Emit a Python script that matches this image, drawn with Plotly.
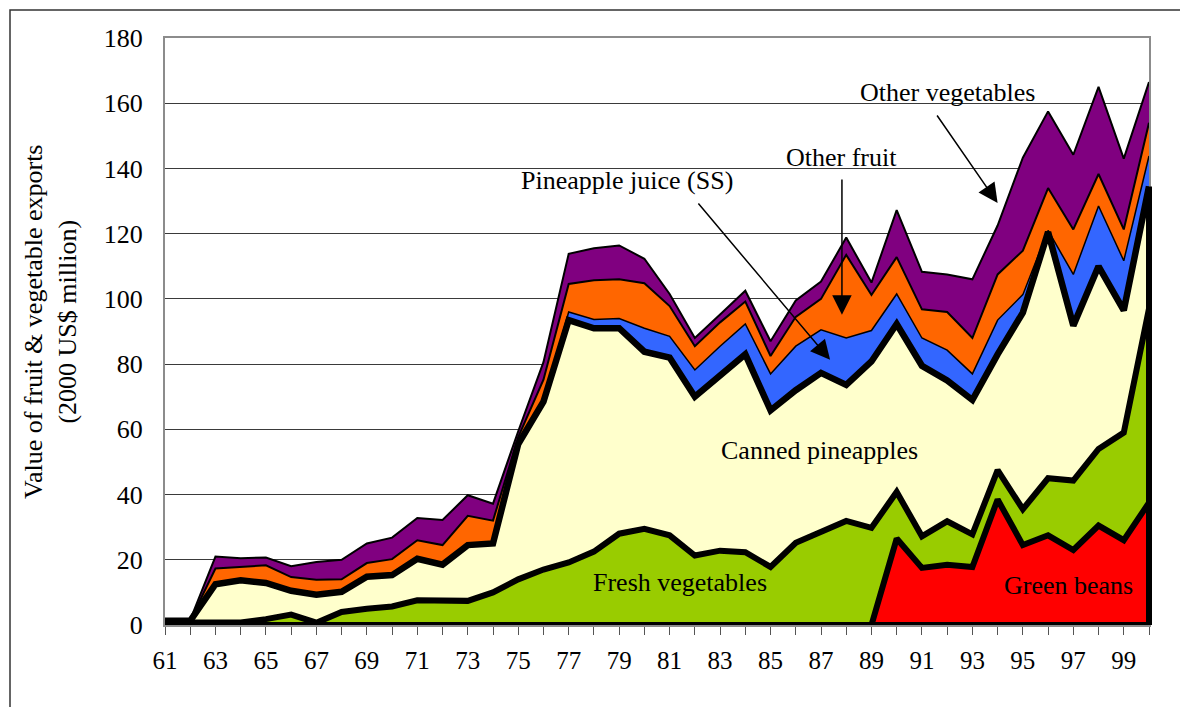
import numpy as np
import plotly.graph_objects as go

# years 1961-2000, labels on odd years
years = list(range(1961, 2001))
tick_years = list(range(1961, 2000, 2))
tick_labels = ["61", "63", "65", "67", "69", "71", "73", "75", "77", "79",
               "81", "83", "85", "87", "89", "91", "93", "95", "97", "99"]

# export values, 2000 US$ million (stacked bottom to top)
green_beans = [0, 0, 0, 0, 0, 0, 0, 0, 0, 0,
               0, 0, 0, 0, 0, 0, 0, 0, 0, 0,
               0, 0, 0, 0, 0, 0, 0, 0, 0, 26.5,
               17.5, 18.5, 17.8, 38.5, 24.5, 27.5, 23.0, 30.5, 26.0, 37.5]
fresh_vegetables = [0.8, 0.8, 0.6, 0.8, 1.8, 3.2, 0.7, 4.0, 5.0, 5.7,
                    7.6, 7.6, 7.4, 10.0, 14.0, 17.0, 19.2, 22.5, 28.0, 29.5,
                    27.5, 21.3, 22.8, 22.3, 17.8, 25.2, 28.5, 31.9, 29.8, 14.3,
                    9.7, 13.3, 10.0, 9.0, 11.0, 17.5, 21.3, 23.5, 33.0, 59.5]
canned_pineapples = [0.5, 0.5, 11.9, 12.9, 11.1, 7.3, 8.6, 6.2, 9.8, 9.6,
                     12.7, 10.9, 17.1, 15.0, 41.5, 51.5, 74.3, 68.5, 63.0, 54.3,
                     54.5, 48.7, 53.7, 60.7, 48.0, 46.8, 48.8, 41.7, 51.0, 51.5,
                     52.3, 43.2, 41.2, 35.5, 60.3, 75.5, 47.5, 56.0, 37.5, 37.5]
pineapple_juice = [0, 0, 0, 0, 0, 0, 0, 0, 0, 0,
                   0, 0, 0, 0, 0.3, 0.5, 2.5, 2.7, 3.0, 7.2,
                   6.5, 8.2, 9.0, 9.3, 11.2, 13.5, 13.2, 14.4, 9.5, 9.2,
                   8.5, 9.3, 8.0, 10.5, 5.5, 0.5, 15.7, 18.5, 15.2, 9.3]
other_fruit = [0.1, 0.1, 4.8, 4.1, 5.4, 4.2, 4.6, 3.8, 4.2, 4.9,
               5.7, 6.0, 9.0, 7.0, 1.8, 6.2, 8.6, 12.0, 12.0, 13.8,
               9.3, 7.3, 7.3, 6.9, 5.5, 9.0, 9.5, 25.5, 10.9, 11.3,
               8.8, 11.7, 11.0, 14.0, 13.5, 13.0, 13.8, 9.8, 9.6, 10.2]
other_vegetables = [0.2, 0.2, 3.7, 2.7, 2.4, 3.3, 5.4, 6.0, 6.0, 6.6,
                    6.8, 7.7, 6.3, 5.2, 1.8, 5.4, 9.2, 9.8, 10.4, 7.5,
                    3.7, 2.5, 2.4, 3.3, 4.5, 5.0, 5.3, 5.3, 3.8, 14.4,
                    11.5, 11.5, 18.0, 15.0, 28.5, 23.5, 22.9, 26.7, 21.7, 12.5]

series = [
    ("Green beans", green_beans, "#FF0000", 6),
    ("Fresh vegetables", fresh_vegetables, "#99CC00", 6),
    ("Canned pineapples", canned_pineapples, "#FFFFCC", 6.5),
    ("Pineapple juice (SS)", pineapple_juice, "#3366FF", 1.5),
    ("Other fruit", other_fruit, "#FF6600", 2),
    ("Other vegetables", other_vegetables, "#800080", 2),
]

FONT = "Liberation Serif, Times New Roman, serif"
# page has an 8px body margin, so the figure is drawn from (8, 8)
W, H = 1180, 699
ML, MR, MT, MB = 157, 39, 30, 82
PW, PH = W - ML - MR, H - MT - MB
X0, Y0 = 8 + ML, 8 + H - MB  # page position of plot-area bottom-left


def px(x):
    return (x - X0) / PW


def py(y):
    return (Y0 - y) / PH


fig = go.Figure()

# filled stacked areas
for name, vals, color, _ in series:
    fig.add_trace(go.Scatter(
        x=years, y=vals, name=name, stackgroup="one", mode="lines",
        line=dict(width=0), fillcolor=color, hoverinfo="x+y+name",
    ))

# black outlines on top of the areas
tops = np.cumsum(np.array([s[1] for s in series]), axis=0)
for (name, vals, color, lw), top in zip(series, tops):
    fig.add_trace(go.Scatter(
        x=years, y=top, mode="lines", line=dict(color="black", width=lw),
        hoverinfo="skip", showlegend=False,
    ))

labels = [
    ("Other vegetables", 1992.03, 163.4),
    ("Other fruit", 1987.83, 143.5),
    ("Pineapple juice (SS)", 1979.3, 136.2),
    ("Canned pineapples", 1986.96, 53.5),
    ("Fresh vegetables", 1981.41, 13.0),
    ("Green beans", 1996.79, 12.0),
]
annotations = [
    dict(text=t, x=x, y=y, xref="x", yref="y", showarrow=False,
         font=dict(family=FONT, size=26, color="black"))
    for t, x, y in labels
]
arrows = [
    (1994.0, 129.4, 1991.56, 156.7),
    (1987.83, 95.1, 1987.83, 137.1),
    (1987.36, 81.3, 1982.09, 129.7),
]
for x, y, ax, ay in arrows:
    annotations.append(dict(
        text="", x=x, y=y, ax=ax, ay=ay, xref="x", yref="y", axref="x", ayref="y",
        showarrow=True, arrowhead=2, arrowsize=2.6, arrowwidth=1.5,
        arrowcolor="black", standoff=0,
    ))

# y-axis title (two centred lines)
annotations.append(dict(
    text="Value of fruit & vegetable exports<br>(2000 US$ million)",
    x=px(50), y=py(322), xanchor="center", yanchor="middle",
    xref="paper", yref="paper", textangle=-90, showarrow=False,
    font=dict(family=FONT, size=26, color="black"),
))

shapes = [
    # outer chart frame
    dict(type="rect", xref="paper", yref="paper",
         x0=px(10), x1=px(1186), y0=py(720), y1=py(10),
         line=dict(color="#333333", width=1.5), layer="below"),
    # thick baseline under the stacked areas
    dict(type="line", xref="paper", yref="y", x0=0, x1=1, y0=0, y1=0,
         line=dict(color="black", width=6), layer="above"),
    # right-hand edge of the thick-bordered series
    dict(type="line", xref="paper", yref="y", x0=1, x1=1, y0=0, y1=float(tops[2][-1]),
         line=dict(color="black", width=6), layer="above"),
]

fig.update_layout(
    width=W, height=H,
    margin=dict(l=ML, r=MR, t=MT, b=MB),
    paper_bgcolor="white", plot_bgcolor="white",
    showlegend=False,
    font=dict(family=FONT, color="black"),
    annotations=annotations,
    shapes=shapes,
    xaxis=dict(
        range=[years[0], years[-1]],
        tickvals=tick_years, ticktext=tick_labels,
        ticks="outside", ticklen=8, tickcolor="#555555", tickwidth=1,
        minor=dict(ticks="outside", dtick=1, tick0=1961, ticklen=8,
                   tickcolor="#555555", tickwidth=1),
        ticklabelstandoff=4,
        tickfont=dict(family=FONT, size=25, color="black"),
        showgrid=False, zeroline=False,
        showline=True, mirror=True, linecolor="#8c8c8c", linewidth=2,
        layer="below traces",
    ),
    yaxis=dict(
        range=[0, 180], dtick=20,
        ticks="", ticklabelstandoff=15,
        tickfont=dict(family=FONT, size=26, color="black"),
        showgrid=True, gridcolor="#3a3a3a", gridwidth=1,
        zeroline=False,
        showline=True, mirror=True, linecolor="#8c8c8c", linewidth=2,
        layer="below traces",
    ),
)

fig.write_html("out.html")
